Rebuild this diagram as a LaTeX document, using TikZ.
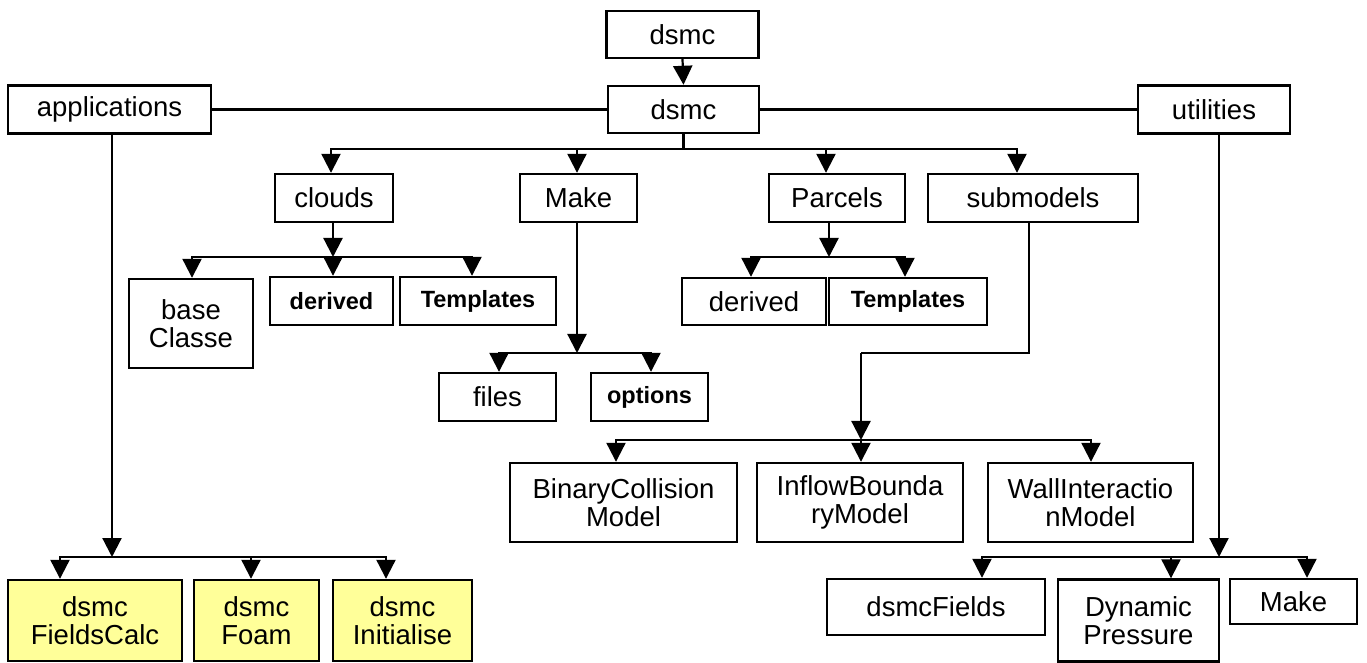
\documentclass[tikz,border=0pt]{standalone}
\usepackage{fontspec}
\setmainfont{Liberation Sans}
\usetikzlibrary{arrows.meta}
\definecolor{appyellow}{RGB}{255,255,153}
\begin{document}
\begin{tikzpicture}[x=0.5pt,y=-0.5pt,
  box/.style={draw, line width=1.2pt, inner sep=0pt, align=center,
    font=\fontsize{13.75pt}{14pt}\selectfont},
  sbox/.style={box, font=\fontsize{11.75pt}{13pt}\selectfont\bfseries},
  ybox/.style={box, fill=appyellow},
  link/.style={line width=1.1pt},
  arr/.style={link, -{Triangle[length=9.5pt,width=9.5pt]}}]
\useasboundingbox (0,0) rectangle (1367,663);
% boxes
\node[box, minimum width=76pt, minimum height=23.5pt] (top) at (682.5,34.5) {dsmc};
\node[box, minimum width=75.5pt, minimum height=23.5pt] (main) at (683.5,109.5) {dsmc};
\node[box, minimum width=101.5pt, minimum height=24pt] (apps) at (109.5,109.5) {applications};
\node[box, minimum width=76pt, minimum height=24pt] (util) at (1214,109.5) {utilities};
\node[box, minimum width=59pt, minimum height=24pt] (clouds) at (334,198) {clouds};
\node[box, minimum width=58.5pt, minimum height=24pt] (make) at (578.5,198) {Make};
\node[box, minimum width=68pt, minimum height=24pt] (parcels) at (837,198) {Parcels};
\node[box, minimum width=105pt, minimum height=24pt] (submodels) at (1033,198) {submodels};
\node[box, minimum width=62pt, minimum height=44.5pt] (base) at (191,323.5) {base\\Classe};
\node[sbox, minimum width=61.5pt, minimum height=24pt] (derivedA) at (331.5,301) {derived};
\node[sbox, minimum width=78pt, minimum height=24pt] (templA) at (478,301) {Templates};
\node[box, minimum width=72pt, minimum height=23.5pt] (derivedB) at (754,301.5) {derived};
\node[sbox, minimum width=79pt, minimum height=23.5pt] (templB) at (908,301.5) {Templates};
\node[box, minimum width=58.5pt, minimum height=24pt] (files) at (497.5,397) {files};
\node[sbox, minimum width=58.5pt, minimum height=24pt] (options) at (649.5,397) {options};
\node[box, minimum width=113.5pt, minimum height=39.5pt] (binary) at (623.5,502.5) {BinaryCollision\\Model};
\node[box, minimum width=103pt, minimum height=39.5pt] (inflow) at (860,502.5) {InflowBounda\\ryModel};
\node[box, minimum width=102.5pt, minimum height=39.5pt] (wall) at (1090.5,502.5) {WallInteractio\\nModel};
\node[ybox, minimum width=87pt, minimum height=40.5pt] (fc) at (95,620.5) {dsmc\\FieldsCalc};
\node[ybox, minimum width=62.5pt, minimum height=40.5pt] (foam) at (256.5,620.5) {dsmc\\Foam};
\node[ybox, minimum width=69.5pt, minimum height=40.5pt] (init) at (402.5,620.5) {dsmc\\Initialise};
\node[box, minimum width=109pt, minimum height=28pt] (dfields) at (936,607) {dsmcFields};
\node[box, minimum width=80.5pt, minimum height=41pt] (dyn) at (1138.5,620.5) {Dynamic\\Pressure};
\node[box, minimum width=63.5pt, minimum height=22.5pt] (make2) at (1293.5,601.5) {Make};
% junctions
\coordinate (jm) at (683.5,149);
\coordinate (jc) at (333,257);
\coordinate (jk) at (577,353);
\coordinate (jp) at (829,257);
\coordinate (s1) at (1029,353);
\coordinate (s2) at (861,353);
\coordinate (js) at (861,440);
\coordinate (ja) at (112,557);
\coordinate (ju) at (1219,557);
% connectors
\draw[arr] (top.south) -- (main.north);
\draw[link] (apps.east) -- (main.west);
\draw[link] (main.east) -- (util.west);
\draw[link] (main.south) -- (jm);
\draw[arr] (jm) -| ([xshift=-1.5pt]clouds.north);
\draw[arr] (jm) -| ([xshift=-0.75pt]make.north);
\draw[arr] (jm) -| ([xshift=-5.5pt]parcels.north);
\draw[arr] (jm) -| ([xshift=-8pt]submodels.north);
% clouds
\draw[arr] ([xshift=-0.5pt]clouds.south) -- (jc);
\draw[arr] (jc) -| ([xshift=0.5pt]base.north);
\draw[arr] (jc) -| ([xshift=0.75pt]derivedA.north);
\draw[arr] (jc) -| ([xshift=-3pt]templA.north);
% make
\draw[arr] ([xshift=-0.75pt]make.south) -- (jk);
\draw[arr] (jk) -| ([xshift=0.75pt]files.north);
\draw[arr] (jk) -| ([xshift=0.75pt]options.north);
% parcels
\draw[arr] ([xshift=-4pt]parcels.south) -- (jp);
\draw[arr] (jp) -| ([xshift=-1.5pt]derivedB.north);
\draw[arr] (jp) -| ([xshift=-1.5pt]templB.north);
% submodels
\draw[link] ([xshift=-2pt]submodels.south) -- (s1) -- (s2);
\draw[arr] (s2) -- (js);
\draw[arr] (js) -| ([xshift=-3.75pt]binary.north);
\draw[arr] (js) -| ([xshift=0.5pt]inflow.north);
\draw[arr] (js) -| ([xshift=0.25pt]wall.north);
% applications
\draw[arr] ([xshift=1.25pt]apps.south) -- (ja);
\draw[arr] (ja) -| ([xshift=-17.5pt]fc.north);
\draw[arr] (ja) -| ([xshift=-2.75pt]foam.north);
\draw[arr] (ja) -| ([xshift=-8.25pt]init.north);
% utilities
\draw[arr] ([xshift=2.5pt]util.south) -- (ju);
\draw[arr] (ju) -| ([xshift=23pt]dfields.north);
\draw[arr] (ju) -| ([xshift=16.25pt]dyn.north);
\draw[arr] (ju) -| ([xshift=6.75pt]make2.north);
\end{tikzpicture}
\end{document}
